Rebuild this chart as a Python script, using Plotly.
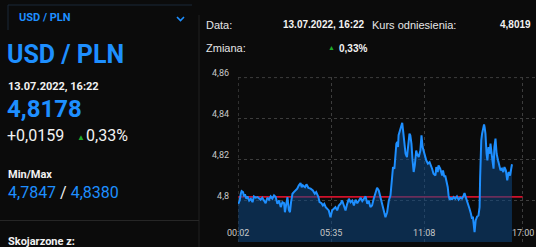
import plotly.graph_objects as go

# ---------------- data ----------------
day = "2022-07-13"
times = [
 "00:02","00:07","00:11","00:14","00:19","00:23","00:26","00:31","00:35","00:41",
 "00:47","00:53","00:58","01:04","01:11","01:16","01:22","01:28","01:34","01:40",
 "01:46","01:52","01:58","02:04","02:10","02:16","02:22","02:28","02:34","02:40",
 "02:46","02:49","02:54","02:58","03:03","03:07","03:11","03:16","03:21","03:27",
 "03:33","03:39","03:45","03:49","03:53","04:01","04:06","04:13","04:21","04:29",
 "04:36","04:41","04:49","04:53","05:00","05:05","05:10","05:15","05:21","05:26",
 "05:32","05:38","05:44","05:50","05:56","06:02","06:08","06:14","06:20","06:26",
 "06:32","06:38","06:44","06:50","06:56","07:02","07:08","07:14","07:20","07:26",
 "07:31","07:38","07:44","07:49","07:55","08:01","08:07","08:13","08:19","08:25",
 "08:31","08:37","08:43","08:49","08:55","09:01","09:07","09:13","09:16","09:21",
 "09:25","09:28","09:31","09:34","09:36","09:40","09:45","09:49","09:52","09:57",
 "10:01","10:06","10:10","10:15","10:18","10:22","10:26","10:30","10:34","10:39",
 "10:42","10:48","10:54","10:58","11:02","11:08","11:15","11:21","11:27","11:36",
 "11:41","11:48","11:51","11:56","11:59","12:05","12:12","12:15","12:20","12:23",
 "12:27","12:32","12:35","12:39","12:44","12:47","12:53","12:59","13:05","13:11",
 "13:17","13:23","13:29","13:32","13:37","13:43","13:47","13:50","13:55","13:59",
 "14:02","14:06","14:08","14:12","14:17","14:22","14:26","14:28","14:30","14:32",
 "14:35","14:38","14:42","14:44","14:47","14:51","14:54","14:58","15:02","15:05",
 "15:09","15:12","15:16","15:19","15:23","15:27","15:32","15:36","15:41","15:46",
 "15:51","15:55","16:00","16:05","16:10","16:15","16:19","16:22",
]
rates = [
 4.7985,4.8001,4.8034,4.8047,4.8042,4.8021,4.8031,4.8010,4.8021,4.8001,
 4.8010,4.7993,4.8021,4.8015,4.8018,4.8010,4.8005,4.8015,4.8001,4.7988,
 4.8015,4.8005,4.8021,4.8010,4.8026,4.8018,4.7985,4.8001,4.7969,4.7993,
 4.7988,4.7944,4.7985,4.8018,4.7956,4.7944,4.7993,4.8034,4.8042,4.8050,
 4.8059,4.8075,4.8086,4.8066,4.8075,4.8066,4.8080,4.8063,4.8059,4.8050,
 4.8034,4.8042,4.8018,4.7993,4.7988,4.7977,4.7985,4.7969,4.7961,4.7953,
 4.7920,4.7953,4.7961,4.7969,4.7953,4.7977,4.7985,4.8001,4.7977,4.7953,
 4.7985,4.8010,4.7993,4.8001,4.7977,4.8005,4.7988,4.8005,4.8015,4.7998,
 4.8010,4.8021,4.7985,4.8001,4.7969,4.7977,4.8010,4.8034,4.8063,4.8050,
 4.8018,4.7977,4.7944,4.7920,4.7944,4.8001,4.8026,4.8115,4.8164,4.8156,
 4.8229,4.8278,4.8286,4.8262,4.8319,4.8335,4.8359,4.8380,4.8343,4.8294,
 4.8229,4.8213,4.8278,4.8327,4.8319,4.8278,4.8197,4.8140,4.8172,4.8245,
 4.8229,4.8213,4.8245,4.8319,4.8262,4.8229,4.8197,4.8181,4.8188,4.8156,
 4.8132,4.8123,4.8164,4.8140,4.8172,4.8156,4.8123,4.8148,4.8115,4.8123,
 4.8099,4.8066,4.8026,4.8005,4.8015,4.8005,4.8018,4.8010,4.8021,4.8005,
 4.8015,4.8010,4.8026,4.8037,4.8015,4.7993,4.7977,4.7961,4.7937,4.7912,
 4.7923,4.7888,4.7847,4.7904,4.7923,4.7928,4.7969,4.8115,4.8245,4.8294,
 4.8327,4.8343,4.8372,4.8359,4.8327,4.8229,4.8197,4.8262,4.8229,4.8278,
 4.8213,4.8197,4.8156,4.8262,4.8303,4.8229,4.8197,4.8172,4.8148,4.8156,
 4.8140,4.8164,4.8148,4.8099,4.8140,4.8123,4.8156,4.8178,
]
reference_rate = 4.8019
ref_span = ["00:02", "17:00"]
x_ticks = ["00:02", "05:35", "11:08", "17:00"]
y_ticks = [4.80, 4.82, 4.84, 4.86]
y_tick_text = ["4,8", "4,82", "4,84", "4,86"]

pair = "USD / PLN"
stamp = "13.07.2022, 16:22"
last_rate = "4,8178"
change_abs = "+0,0159"
change_pct = "0,33%"
min_rate = "4,7847"
max_rate = "4,8380"
ref_text = "4,8019"

# ---------------- figure ----------------
W, H = 536, 247
ML, MR, MT, MB = 238, 0, 77, 5
PW, PH = W - ML - MR, H - MT - MB

def px(x):
    return (x - ML) / PW

def py(y):
    return (H - MB - y) / PH

BG = "#0b0b0b"
BLUE = "#1e8fff"
WHITE = "#f2f2f2"
GREEN = "#1faa2a"
GRID = "#3d3d3d"
TICK = "#c8c8c8"

ts = [f"{day} {t}" for t in times]

fig = go.Figure()
fig.add_trace(go.Scatter(
    x=[f"{day} {t}" for t in ref_span], y=[reference_rate, reference_rate],
    mode="lines", line=dict(color="#d0112b", width=1.6), hoverinfo="skip"))
fig.add_trace(go.Scatter(
    x=ts, y=rates, mode="lines", fill="tozeroy",
    fillcolor="rgba(14,72,135,0.52)",
    line=dict(color=BLUE, width=2)))

fig.update_layout(
    width=W, height=H, margin=dict(l=ML, r=MR, t=MT, b=MB),
    paper_bgcolor=BG, plot_bgcolor=BG, showlegend=False,
    separators=", ",
    font=dict(family="Roboto, Arial, sans-serif", color=WHITE),
)
fig.update_xaxes(
    type="date",
    range=[f"{day} 00:01", f"{day} 17:48"],
    tickvals=[f"{day} {t}" for t in x_ticks], ticktext=x_ticks,
    showticklabels=False, ticks="",
    showgrid=True, gridcolor=GRID, griddash="dot", gridwidth=1,
    zeroline=False, showline=False,
)
fig.update_yaxes(
    range=[4.7799, 4.8603],
    tickvals=y_ticks, ticktext=y_tick_text,
    ticks="", ticklabelshift=-5, ticklabelstandoff=8,
    tickfont=dict(size=9, color=TICK, family="Roboto, Arial"),
    showgrid=True, gridcolor=GRID, griddash="dot", gridwidth=1,
    zeroline=False, showline=False,
)

ann = []
def text(x, y, s, size, color=WHITE, bold=False, family="Roboto, Arial", anchor="left"):
    if bold:
        s = f"<b>{s}</b>"
    ann.append(dict(x=px(x), y=py(y), xref="paper", yref="paper", text=s,
                    showarrow=False, xanchor=anchor, yanchor="middle",
                    borderpad=0,
                    font=dict(size=size, color=color, family=family)))

# x tick labels drawn inside the plot, positioned by the x axis
for t in x_ticks:
    ann.append(dict(x=f"{day} {t}", xref="x", y=py(233), yref="paper", text=t,
                    showarrow=False, xanchor="center", yanchor="middle",
                    font=dict(size=9, color=TICK, family="Roboto, Arial")))

# left panel
text(18, 17, pair, 11, BLUE, bold=True)
text(6, 54, pair, 25, BLUE, bold=True)
text(7, 86, stamp, 11, WHITE, bold=True)
text(6, 109, last_rate, 24, BLUE, bold=True)
text(6, 135, change_abs, 16, WHITE)
text(80.5, 137, "▲", 8, GREEN, anchor="center")
text(85, 135, change_pct, 16, WHITE)
text(7, 174, "Min/Max", 11, WHITE, bold=True)
ann.append(dict(x=px(6), y=py(192), xref="paper", yref="paper", showarrow=False,
                xanchor="left", yanchor="middle",
                text=f"<span style='color:{BLUE}'>{min_rate}</span> / "
                     f"<span style='color:{BLUE}'>{max_rate}</span>",
                font=dict(size=16, color=WHITE, family="Roboto, Arial")))
text(7, 241, "Skojarzone z:", 11, WHITE, bold=True)

# right header
HF = "Liberation Sans, Arial"
text(205, 25, "Data:", 11, "#e6e6e6", family=HF)
text(366, 25, stamp, 10, WHITE, bold=True, family=HF, anchor="right")
text(371, 25, "Kurs odniesienia:", 11, "#e6e6e6", family=HF)
text(532, 25, ref_text, 10, WHITE, bold=True, family=HF, anchor="right")
text(205, 48, "Zmiana:", 11, "#e6e6e6", family=HF)
text(331.5, 47.5, "▲", 7, GREEN, family=HF, anchor="center")
text(337.5, 48, change_pct, 10, WHITE, bold=True, family=HF, anchor="left")

fig.update_layout(annotations=ann)

def seg(x0, y0, x1, y1, color, w=1):
    return dict(type="line", xref="paper", yref="paper",
                x0=px(x0), y0=py(y0), x1=px(x1), y1=py(y1),
                line=dict(color=color, width=w), layer="above")

shapes = [
    seg(8, 5, 192, 5, "#1a2838"),
    seg(8, 5, 8, 30, "#1a2838"),
    seg(199, 15, 199, 247, "#202020"),
    seg(0, 220.5, 199, 220.5, "#262626"),
    dict(type="path", xref="paper", yref="paper",
         path=f"M {px(177)} {py(17)} L {px(180.5)} {py(20.5)} L {px(184)} {py(17)}",
         line=dict(color=BLUE, width=1.6)),
    # edge grid lines (first x tick, top y tick)
    dict(type="line", xref="x", yref="paper", x0=f"{day} {x_ticks[0]}",
         x1=f"{day} {x_ticks[0]}", y0=0, y1=1, layer="below",
         line=dict(color=GRID, width=1, dash="dot")),
    dict(type="line", xref="paper", yref="y", x0=0, x1=1,
         y0=y_ticks[-1], y1=y_ticks[-1], layer="below",
         line=dict(color=GRID, width=1, dash="dot")),
]
fig.update_layout(shapes=shapes)

fig.write_html("out.html")
